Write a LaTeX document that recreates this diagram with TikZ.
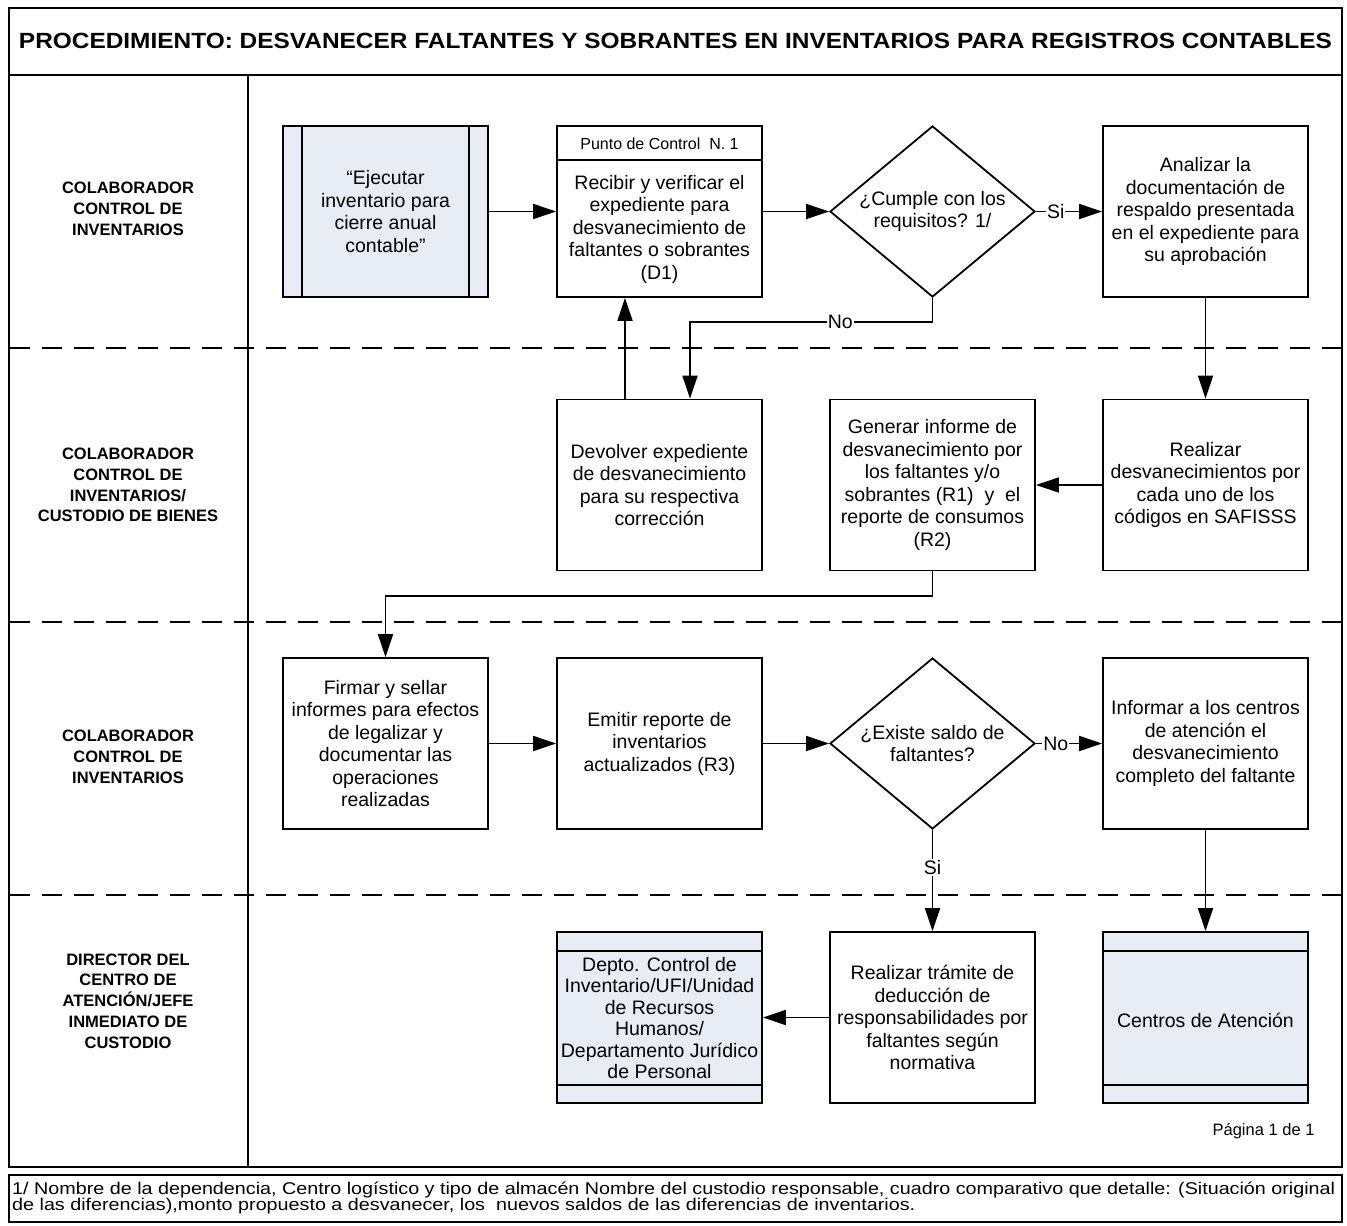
\documentclass[tikz,border=0pt]{standalone}
\usepackage{fontspec}
\setmainfont{Liberation Sans}
\usetikzlibrary{shapes.geometric,arrows.meta}
\definecolor{poolfill}{RGB}{232,236,244}

\begin{document}
\begin{tikzpicture}[x=1pt,y=-1pt,
  every node/.style={font=\fontsize{19.5}{22.5}\selectfont},
  box/.style={draw, line width=1.8pt, minimum width=205pt, minimum height=171pt,
    inner sep=0pt, align=center},
  decision/.style={draw, diamond, line width=1.8pt, minimum width=205pt,
    minimum height=171pt, inner sep=0pt, aspect=1.2, align=center},
  lane/.style={font=\fontsize{16.5}{20.8}\selectfont\bfseries, align=center},
  lbl/.style={fill=white, inner sep=1pt},
  arr/.style={line width=1.8pt, -{Triangle[length=23pt,width=15pt]}},
  lanesep/.style={line width=1.8pt, dash pattern=on 20pt off 12pt},
  frame/.style={line width=2.2pt}]

\useasboundingbox (0,0) rectangle (1347,1226);

% outer frame, title band and lane column
\draw[frame] (9,8) rectangle (1342,1167);
\draw[frame] (9,75) -- (1342,75);
\draw[line width=1.8pt] (248,75) -- (248,1167);
\draw[frame] (9,1175) rectangle (1342,1222);

% lane separators
\draw[lanesep] (10,348) -- (1341,348);
\draw[lanesep] (10,622) -- (1341,622);
\draw[lanesep] (10,895) -- (1341,895);

% title
\node[inner sep=0pt] (title) at (675.5,41)
  {\resizebox{1313pt}{\height}{\fontsize{22}{26}\selectfont\bfseries PROCEDIMIENTO: DESVANECER FALTANTES Y SOBRANTES EN INVENTARIOS PARA REGISTROS CONTABLES}};

% lane labels
\node[lane] (l1) at (128,209) {COLABORADOR\\CONTROL DE\\INVENTARIOS};
\node[lane] (l2) at (128,485) {COLABORADOR\\CONTROL DE\\INVENTARIOS/\\CUSTODIO DE BIENES};
\node[lane] (l3) at (128,757) {COLABORADOR\\CONTROL DE\\INVENTARIOS};
\node[lane] (l4) at (128,1001) {DIRECTOR DEL\\CENTRO DE\\ATENCIÓN/JEFE\\INMEDIATO DE\\CUSTODIO};

% lane 1
\node[box, fill=poolfill] (ejec) at (385.5,211.5)
  {“Ejecutar\\inventario para\\cierre anual\\contable”};
\draw[line width=1.8pt] ([xshift=20pt]ejec.north west) -- ([xshift=20pt]ejec.south west);
\draw[line width=1.8pt] ([xshift=-20pt]ejec.north east) -- ([xshift=-20pt]ejec.south east);

\node[box] (recv) at (659.5,211.5) {};
\draw[line width=1.8pt] ([yshift=-35pt]recv.north west) -- ([yshift=-35pt]recv.north east);
\node[font=\fontsize{16}{19}\selectfont] (recvh) at (659.5,143.5) {Punto de Control\ \ N. 1};
\node[align=center] (recvb) at (659.5,229)
  {Recibir y verificar el\\expediente para\\desvanecimiento de\\faltantes o sobrantes\\(D1)};

\node[decision] (q1) at (932.5,211.5) {¿Cumple con los\\requisitos? 1/};

\node[box] (anal) at (1205.5,211.5)
  {Analizar la\\documentación de\\respaldo presentada\\en el expediente para\\su aprobación};

% lane 2
\node[box] (devo) at (659.5,485)
  {Devolver expediente\\de desvanecimiento\\para su respectiva\\corrección};
\node[box] (gen) at (932.5,485)
  {Generar informe de\\desvanecimiento por\\los faltantes y/o\\sobrantes (R1)\ \ y\ \ el\\reporte de consumos\\(R2)};
\node[box] (real) at (1205.5,485)
  {Realizar\\desvanecimientos por\\cada uno de los\\códigos en SAFISSS};

% lane 3
\node[box] (firm) at (385.5,743.5)
  {Firmar y sellar\\informes para efectos\\de legalizar y\\documentar las\\operaciones\\realizadas};
\node[box] (emit) at (659.5,743.5)
  {Emitir reporte de\\inventarios\\actualizados (R3)};
\node[decision] (q2) at (932.5,743.5) {¿Existe saldo de\\faltantes?};
\node[box] (info) at (1205.5,743.5)
  {Informar a los centros\\de atención el\\desvanecimiento\\completo del faltante};

% lane 4
\node[box, fill=poolfill] (depto) at (659.5,1017.5) {};
\draw[line width=1.8pt] ([yshift=-20pt]depto.north west) -- ([yshift=-20pt]depto.north east);
\draw[line width=1.8pt] ([yshift=19pt]depto.south west) -- ([yshift=19pt]depto.south east);
\node[align=center, font=\fontsize{19.5}{21.5}\selectfont] (deptot) at (659.5,1018)
  {Depto. Control de\\Inventario/UFI/Unidad\\de Recursos\\Humanos/\\Departamento Jurídico\\de Personal};

\node[box] (tram) at (932.5,1017.5)
  {Realizar trámite de\\deducción de\\responsabilidades por\\faltantes según\\normativa};

\node[box, fill=poolfill] (cent) at (1205.5,1017.5) {};
\draw[line width=1.8pt] ([yshift=-20pt]cent.north west) -- ([yshift=-20pt]cent.north east);
\draw[line width=1.8pt] ([yshift=19pt]cent.south west) -- ([yshift=19pt]cent.south east);
\node (centt) at (1205.5,1020) {Centros de Atención};

% connectors
\draw[arr] (ejec) -- (recv);
\draw[arr] (recv) -- (q1);
\draw[arr] (q1.east) -- node[lbl, pos=0.3] {Si} (anal.west);
\coordinate (nobend) at (690,322);
\draw[arr] (q1.south) |- node[lbl, pos=0.69] {No} (nobend) -- (nobend |- devo.north);
\draw[arr] ([xshift=-34.5pt]devo.north) -- ([xshift=-34.5pt]recv.south);
\draw[arr] (anal) -- (real);
\draw[arr] (real) -- (gen);
\coordinate (genbend) at (932.5,596);
\draw[arr] (gen.south) -- (genbend) -| (firm.north);
\draw[arr] (firm) -- (emit);
\draw[arr] (emit) -- (q2);
\draw[arr] (q2.east) -- node[lbl, pos=0.3] {No} (info.west);
\draw[arr] (q2.south) -- node[lbl, pos=0.37] {Si} (tram.north);
\draw[arr] (info) -- (cent);
\draw[arr] (tram) -- (depto);

% page number and footnote
\node[anchor=east, font=\fontsize{16.5}{19}\selectfont] (page) at (1318,1131) {Página 1 de 1};
\node[anchor=west, inner sep=0pt] (note) at (12,1198)
  {\resizebox{1323pt}{\height}{\fontsize{17}{12.5}\selectfont\begin{tabular}{@{}l@{}}1/ Nombre de la dependencia, Centro logístico y tipo de almacén Nombre del custodio responsable, cuadro comparativo que detalle: (Situación original\\de las diferencias),monto propuesto a desvanecer, los\ \ nuevos saldos de las diferencias de inventarios.\end{tabular}}};

\end{tikzpicture}
\end{document}
